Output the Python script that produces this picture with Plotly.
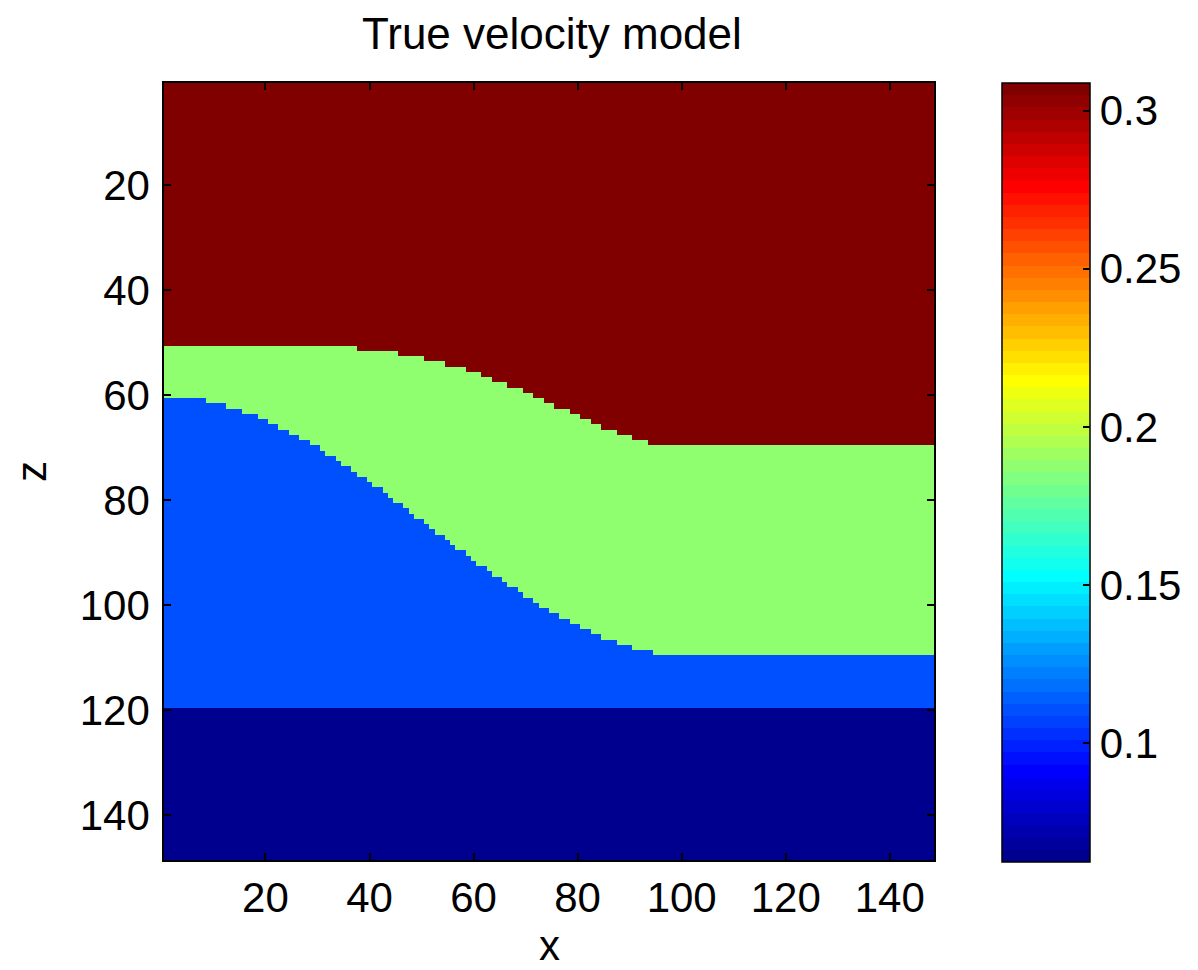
import numpy as np
import plotly.graph_objects as go

# ---------------- data ----------------
nx, nz = 148, 148
x_coords = list(range(1, nx + 1))
z_coords = list(range(1, nz + 1))

# layer velocities (top -> bottom)
v_layer1 = 0.3086   # dark red
v_layer2 = 0.1874   # green
v_layer3 = 0.1105   # blue
v_layer4 = 0.0624   # navy

# interface 1 (base of the red layer): for columns starting at x_start, last red row
interface1_x_start = [1, 38, 46, 51, 55, 59, 62, 64, 67, 70, 72, 74, 76, 79, 81, 83, 85, 88, 91, 94]
interface1_depth = [50, 51, 52, 53, 54, 55, 56, 57, 58, 59, 60, 61, 62, 63, 64, 65, 66, 67, 68, 69]

# interface 2 (top of the blue layer): for each row, blue extends up to column x_end
interface2_depth = [61, 62, 63, 64, 65, 66, 67, 68, 69, 70,
                    71, 72, 73, 74, 75, 76, 77, 78, 79, 80,
                    81, 82, 83, 84, 85, 86, 87, 88, 89, 90,
                    91, 92, 93, 94, 95, 96, 97, 98, 99, 100,
                    101, 102, 103, 104, 105, 106, 107, 108, 109]
interface2_x_end = [8, 12, 15, 18, 20, 22, 24, 26, 28, 30,
                    31, 33, 34, 36, 37, 39, 40, 42, 43, 44,
                    46, 47, 48, 50, 51, 52, 54, 55, 56, 58,
                    59, 60, 62, 63, 65, 66, 68, 69, 71, 72,
                    74, 76, 78, 80, 82, 84, 87, 90, 94]
interface2_flat_depth = 110   # blue across the whole width from here
interface3_depth = 120        # navy half-space from here

cbar_min, cbar_max = 0.0624, 0.3086
cbar_ticks = [0.1, 0.15, 0.2, 0.25, 0.3]
cbar_ticktext = ["0.1", "0.15", "0.2", "0.25", "0.3"]
x_ticks = [20, 40, 60, 80, 100, 120, 140]
z_ticks = [20, 40, 60, 80, 100, 120, 140]

# ---------------- build the model grid ----------------
V = np.full((nz, nx), v_layer2)
# blue layer
for d, xe in zip(interface2_depth, interface2_x_end):
    V[d - 1, :xe] = v_layer3
V[interface2_flat_depth - 1:, :] = v_layer3
# red layer
starts = interface1_x_start + [nx + 1]
for i, d in enumerate(interface1_depth):
    V[:d, starts[i] - 1:starts[i + 1] - 1] = v_layer1
# navy half-space
V[interface3_depth - 1:, :] = v_layer4

# ---------------- MATLAB jet(64) colormap, discrete ----------------
def jet(m=64):
    n = int(np.ceil(m / 4))
    u = np.concatenate([np.arange(1, n + 1) / n, np.ones(n - 1), np.arange(n, 0, -1) / n])
    g = int(np.ceil(n / 2)) - (1 if m % 4 == 1 else 0) + np.arange(1, len(u) + 1)
    r = g + n
    b = g - n
    g = g[g <= m]
    r = r[r <= m]
    b = b[b >= 1]
    J = np.zeros((m, 3))
    J[r - 1, 0] = u[:len(r)]
    J[g - 1, 1] = u[:len(g)]
    J[b - 1, 2] = u[len(u) - len(b):]
    return J

J = jet(64)
colorscale = []
for k in range(64):
    c = "rgb(%d,%d,%d)" % tuple(int(round(v * 255)) for v in J[k])
    colorscale.append([k / 64, c])
    colorscale.append([(k + 1) / 64, c])

FONT = "Liberation Sans, Arial, Helvetica, sans-serif"

fig = go.Figure(go.Heatmap(
    z=V, x=x_coords, y=z_coords,
    zmin=cbar_min, zmax=cbar_max,
    colorscale=colorscale, zsmooth=False,
    colorbar=dict(
        x=1.088, xanchor="left", xpad=0,
        y=0.4983, yanchor="middle", ypad=0,
        len=779, lenmode="pixels",
        thickness=88, thicknessmode="pixels",
        outlinecolor="black", outlinewidth=1.5,
        tickvals=cbar_ticks, ticktext=cbar_ticktext,
        ticks="inside", ticklen=7, tickwidth=1.5, tickcolor="black",
        tickfont=dict(family=FONT, size=42, color="black"),
    ),
))

fig.update_layout(
    width=1198, height=970,
    margin=dict(l=164, r=264, t=83, b=110, autoexpand=False),
    paper_bgcolor="white", plot_bgcolor="white",
    font=dict(family=FONT, color="black"),
    title=dict(text="True velocity model", x=0.4607, xanchor="center",
               y=1 - 34 / 970, yanchor="middle", yref="container", automargin=False,
               font=dict(family=FONT, size=44, color="black")),
    annotations=[dict(text="x", xref="paper", yref="paper", x=0.5, y=-0.1094,
                      xanchor="center", yanchor="middle", showarrow=False,
                      font=dict(family=FONT, size=42, color="black"))],
)
fig.update_xaxes(
    range=[0.5, 148.5], tickvals=x_ticks, ticks="inside", ticklen=7, tickwidth=1.5,
    tickcolor="black", showline=True, linecolor="black", linewidth=1.5, mirror="ticks",
    showgrid=False, zeroline=False, automargin=False,
    tickfont=dict(family=FONT, size=42, color="black"),
)
fig.update_yaxes(
    range=[148.5, 0.5], tickvals=z_ticks, ticks="inside", ticklen=7, tickwidth=1.5,
    tickcolor="black", showline=True, linecolor="black", linewidth=1.5, mirror="ticks",
    showgrid=False, zeroline=False, automargin=False, ticklabelstandoff=4,
    tickfont=dict(family=FONT, size=42, color="black"),
    title=dict(text="z", font=dict(family=FONT, size=42, color="black"), standoff=20),
)

fig.write_html("out.html", config={"displayModeBar": False},
               post_script="document.body.style.margin='0';")
